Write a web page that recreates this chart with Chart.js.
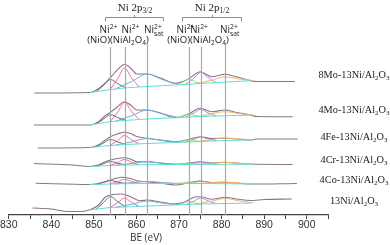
<!DOCTYPE html>
<html>
<head>
<meta charset="utf-8">
<script src="https://cdn.jsdelivr.net/npm/chart.js@4.4.1/dist/chart.umd.min.js"></script>
<style>
  html, body { margin: 0; padding: 0; background: #fff; }
</style>
</head>
<body>
<canvas id="c" width="390" height="245"></canvas>
<script>
// Ni 2p XPS spectra, stacked (arbitrary intensity units)
const sampleNames = ["8Mo-13Ni/Al2O3", "4Mo-13Ni/Al2O3", "4Fe-13Ni/Al2O3", "4Cr-13Ni/Al2O3", "4Co-13Ni/Al2O3", "13Ni/Al2O3"];
const markerBE = [853.9, 857.2, 862.5, 872.3, 875.2, 880.9];
const tickStep = 5;

// measured envelopes [BE, intensity]
const env8Mo = [[836,122],[849,122.5],[851,126],[852.7,132],[853.9,137.5],[855.5,145],[857.2,150.7],[858.6,147],[860.1,141],[862.5,141],[865.6,137],[869.1,131.7],[872.2,136],[875,143.3],[877.7,138.3],[880.8,140.7],[883.6,138],[886.7,134.5],[888.3,133.5],[897.2,133.5]];
const env4Mo = [[835.9,90],[849,90],[851,93],[852.7,99.3],[853.9,102.7],[855.5,108],[857.2,113.3],[858.6,110],[860.1,105],[862.5,105],[865.6,102],[869.1,97.3],[872.2,101],[875,106.7],[877.7,103.3],[880.8,105],[883.6,102.5],[886.7,100],[888.3,98.5],[896.7,98.3]];
const env4Fe = [[836.8,67],[849,67.5],[851,70],[852.7,75],[853.9,78.3],[855.5,81],[857.2,82.7],[858.6,81.5],[860.1,78.5],[862.5,76.7],[865.6,75],[869.1,73.3],[872.2,75.5],[875,78.3],[877.7,76.5],[880.8,76.7],[883.6,76],[886.7,75],[888.3,76],[897.9,76]];
const env4Cr = [[835.9,51.5],[845,50],[849,48.5],[851,50],[852.7,53.3],[853.9,55],[855.5,56.5],[857.2,57.3],[858.6,56],[860.1,53.3],[862.5,53.3],[865.6,52],[869.1,50.7],[872.2,52],[875,53.3],[877.7,52],[880.8,52.7],[883.6,52],[886.7,51],[896.7,50.5]];
const env4Co = [[836.3,31.7],[849,30.5],[851,31.5],[852.7,33.3],[853.9,35],[855.5,37],[856.6,37.7],[858.6,36.5],[860.1,34.3],[862.5,33.3],[865.6,32],[869.1,30],[872.2,32],[875,34],[877.7,32.5],[880.8,32.7],[883.6,32],[886.7,31],[897.7,31.5]];
const env13Ni = [[835.6,7],[840,6],[844,3.5],[847,3.5],[849.2,5.5],[851.1,10],[852.7,18],[853.9,20],[855.5,20.8],[856.6,21],[858.6,18.3],[860.9,14.3],[862.5,15],[865.6,13],[868.5,11],[871,12.5],[874.2,18.3],[875.5,18],[877.7,15.7],[880.8,17.7],[883.6,16],[886.7,14.5],[890,15.5],[896.5,16]];
const envelopes = [env8Mo, env4Mo, env4Fe, env4Cr, env4Co, env13Ni];

// backgrounds
const bg8Mo = [[849,122.3],[853.9,125.5],[857.2,127],[862.5,128.5],[869,130],[875,131.5],[881,133],[887,134.3]];
const bg4Mo = [[849,90],[853.9,93.3],[857.2,94.5],[862.5,96],[869,97.3],[875,98.5],[881,99.3],[887,99.8]];
const bg4Fe = [[849,67.5],[853.9,69.5],[857.2,70.5],[862.5,71.5],[869,72.5],[875,73.5],[881,74.5],[887,75.2]];
const bg4Cr = [[849,48.5],[853.9,49.5],[857.2,50],[862.5,50.3],[869,50.5],[875,50.6],[881,50.7],[887,50.7]];
const bg4Co = [[849,30.5],[853.9,31],[857.2,31.3],[862.5,31.5],[869,31.5],[875,31.5],[881,31.3],[887,31]];
const bg13Ni = [[849,5],[853.9,7.5],[857.2,8],[862.5,9],[869,10],[875,11],[881,11.5],[887,12]];
const backgrounds = [bg8Mo, bg4Mo, bg4Fe, bg4Cr, bg4Co, bg13Ni];

// fitted components, one entry per sample (same order as sampleNames)
const nioPeaks = [
  [[850.5,123.3],[852.2,129.4],[853.9,135.5],[855.6,131.3],[857.5,127.1]],
  [[850.5,91],[852.2,95.7],[853.9,100.3],[855.6,97.4],[857.5,94.6]],
  [[850.5,68.1],[852.2,71.8],[853.9,75.5],[855.6,73],[857.5,70.6]],
  [[850.5,48.8],[852.2,51.2],[853.9,53.5],[855.6,51.8],[857.5,50]],
  [[850.5,30.6],[852.2,32.6],[853.9,34.5],[855.6,32.9],[857.5,31.3]],
  [[850.5,5.8],[852.2,12.2],[853.9,18.5],[855.6,13.3],[857.5,8]]
];
const aluminatePeaks = [
  [[853.8,125.4],[855.6,136.3],[857.2,147],[858.8,137.5],[860.6,128]],
  [[853.8,93.2],[855.6,102.9],[857.2,112.5],[858.8,103.9],[860.6,95.5]],
  [[853.8,69.5],[855.6,74.5],[857.2,79.5],[858.8,75.3],[860.6,71.1]],
  [[853.8,49.5],[855.6,52.5],[857.2,55.5],[858.8,52.9],[860.6,50.2]],
  [[853.8,31],[855.6,33.4],[857.2,35.8],[858.8,33.6],[860.6,31.4]],
  [[853.8,7.5],[855.6,12.3],[857.2,17],[858.8,12.8],[860.6,8.6]]
];
const satPeaks = [
  [[855,126],[859,133.8],[862.5,141],[866,135.6],[870,130.3]],
  [[855,93.7],[859,99.5],[862.5,105],[866,101.2],[870,97.5]],
  [[855,69.8],[859,73.3],[862.5,76.5],[866,74.5],[870,72.7]],
  [[855,49.7],[859,51.6],[862.5,53.3],[866,51.9],[870,50.5]],
  [[855,31.1],[859,32.4],[862.5,33.5],[866,32.5],[870,31.5]],
  [[855,7.7],[859,10.8],[862.5,14],[866,12],[870,10.2]]
];
const nioHalfPeaks = [
  [[869.5,130.1],[871,133],[872.3,135.8],[873.6,133.7],[875,131.5]],
  [[869.5,97.4],[871,99.2],[872.3,101],[873.6,99.7],[875,98.5]],
  [[869.5,72.6],[871,73.8],[872.3,75],[873.6,74.3],[875,73.5]],
  [[869.5,50.5],[871,51.3],[872.3,52.1],[873.6,51.3],[875,50.6]],
  [[869.5,31.5],[871,32.2],[872.3,33],[873.6,32.2],[875,31.5]],
  [[869.5,10.1],[871,11.8],[872.3,13.6],[873.6,12.3],[875,11]]
];
const aluminateHalfPeaks = [
  [[871.5,130.6],[873.4,136.6],[875.1,142.5],[876.8,137.5],[878.7,132.4]],
  [[871.5,97.8],[873.4,101.7],[875.1,105.5],[876.8,102.2],[878.7,99]],
  [[871.5,72.9],[873.4,75.5],[875.1,78],[876.8,76],[878.7,74.1]],
  [[871.5,50.5],[873.4,51.8],[875.1,53.1],[876.8,51.9],[878.7,50.7]],
  [[871.5,31.5],[873.4,32.7],[875.1,34],[876.8,32.7],[878.7,31.4]],
  [[871.5,10.4],[873.4,13.7],[875.1,17],[876.8,14.2],[878.7,11.3]]
];
const satHalfPeaks = [
  [[874,131.3],[877.5,134.6],[880.8,138],[884,136.1],[887.5,134.4]],
  [[874,98.3],[877.5,100.8],[880.8,103.3],[884,101.5],[887.5,99.8]],
  [[874,73.3],[877.5,75.2],[880.8,77],[884,76.1],[887.5,75.2]],
  [[874,50.6],[877.5,51.7],[880.8,52.7],[884,51.7],[887.5,50.7]],
  [[874,31.5],[877.5,32.1],[880.8,32.8],[884,32],[887.5,31]],
  [[874,10.8],[877.5,13.7],[880.8,16.5],[884,14.3],[887.5,12]]
];

function pts(arr) {
  return arr.map(function (p) { return { x: p[0], y: p[1] }; });
}

function lineSet(arr, color, width) {
  return {
    data: pts(arr),
    borderColor: color,
    borderWidth: width,
    pointRadius: 0,
    fill: false,
    cubicInterpolationMode: "monotone",
  };
}

const datasets = [];
sampleNames.forEach(function (name, i) {
  datasets.push(lineSet(backgrounds[i], "#5fe0d2", 1));
  datasets.push(lineSet(satPeaks[i], "#74a9dc", 1));
  datasets.push(lineSet(nioPeaks[i], "#6e6a7c", 1));
  datasets.push(lineSet(aluminatePeaks[i], "#ff6690", 1));
  datasets.push(lineSet(nioHalfPeaks[i], "#9ee07a", 1));
  datasets.push(lineSet(satHalfPeaks[i], "#f2b865", 1));
  datasets.push(lineSet(aluminateHalfPeaks[i], "#b98ad9", 1));
  datasets.push(lineSet(envelopes[i], "#8c7589", 1.1));
});

const SANS = "'Open Sans', 'Liberation Sans', sans-serif";
const SERIF = "'Liberation Serif', 'DejaVu Serif', serif";

// draw a run of [text, kind] parts; kind: n / sup / sub
function chem(ctx, parts, x, y, size, family, align) {
  const small = size * 0.68;
  let w = 0;
  parts.forEach(function (p) {
    ctx.font = (p[1] === "n" ? size : small) + "px " + family;
    w += ctx.measureText(p[0]).width;
  });
  let cx = align === "center" ? x - w / 2 : x;
  parts.forEach(function (p) {
    ctx.font = (p[1] === "n" ? size : small) + "px " + family;
    let dy = 0;
    if (p[1] === "sup") dy = -size * 0.38;
    if (p[1] === "sub") dy = size * 0.22;
    ctx.fillText(p[0], cx, y + dy);
    cx += ctx.measureText(p[0]).width;
  });
}

function formulaParts(name) {
  // subscripts on the Al2O3 support
  const base = name.replace("Al2O3", "");
  return [[base + "Al", "n"], ["2", "sub"], ["O", "n"], ["3", "sub"]];
}

const annotations = {
  id: "annotations",
  afterDatasetsDraw: function (chart) {
    const ctx = chart.ctx;
    const area = chart.chartArea;
    const xs = chart.scales.x;
    const tops = [47, 47, 44, 47, 47, 44];
    ctx.save();
    ctx.strokeStyle = "#a3a9ae";
    ctx.lineWidth = 1.2;
    markerBE.forEach(function (be, i) {
      const px = Math.round(xs.getPixelForValue(be)) + 0.5;
      ctx.beginPath();
      ctx.moveTo(px, tops[i]);
      ctx.lineTo(px, area.bottom);
      ctx.stroke();
    });

    // brackets
    ctx.strokeStyle = "#8a8a8a";
    ctx.lineWidth = 1;
    [[105, 163, 134], [182, 241, 212]].forEach(function (b) {
      ctx.beginPath();
      ctx.moveTo(b[0] + 0.5, 21);
      ctx.lineTo(b[0] + 0.5, 17.5);
      ctx.lineTo(b[1] + 0.5, 17.5);
      ctx.lineTo(b[1] + 0.5, 21);
      ctx.moveTo(b[2] + 0.5, 17.5);
      ctx.lineTo(b[2] + 0.5, 15);
      ctx.stroke();
    });

    ctx.fillStyle = "#222";
    ctx.textBaseline = "alphabetic";
    chem(ctx, [["Ni 2p", "n"], ["3/2", "sub"]], 135, 11, 11, SERIF, "center");
    chem(ctx, [["Ni 2p", "n"], ["1/2", "sub"]], 212, 11, 11, SERIF, "center");

    const ni = [["Ni", "n"], ["2+", "sup"]];
    [108.5, 130.5, 185.5, 199].forEach(function (x) {
      chem(ctx, ni, x, 33, 10, SANS, "center");
    });
    [[144], [220]].forEach(function (x) {
      ctx.font = "10px " + SANS;
      const nw = ctx.measureText("Ni").width;
      ctx.fillText("Ni", x[0], 33);
      ctx.font = "6.8px " + SANS;
      ctx.fillText("2+", x[0] + nw, 29);
      ctx.fillText("sat", x[0] + nw, 36);
    });
    const species = [["(NiO)(NiAl", "n"], ["2", "sub"], ["O", "n"], ["4", "sub"], [")", "n"]];
    chem(ctx, species, 118, 43, 9.6, SANS, "center");
    chem(ctx, species, 198, 43, 9.6, SANS, "center");

    // sample names on the right
    const labelY = [78, 113, 140, 163, 183, 204];
    sampleNames.forEach(function (name, i) {
      chem(ctx, formulaParts(name), 354, labelY[i], 10.3, SERIF, "center");
    });

    ctx.font = "10px " + SANS;
    ctx.textAlign = "center";
    ctx.fillStyle = "#333";
    ctx.fillText("BE (eV)", 146, 241);
    ctx.restore();
  },
};

new Chart(document.getElementById("c"), {
  type: "line",
  data: { datasets: datasets },
  options: {
    responsive: false,
    animation: false,
    parsing: true,
    layout: { padding: { top: 0, right: 62, bottom: 13.4, left: 0 } },
    plugins: { legend: { display: false }, tooltip: { enabled: false } },
    scales: {
      x: {
        type: "linear",
        min: 830,
        max: 905,
        border: { color: "#444", width: 1.3 },
        grid: { drawOnChartArea: false, drawTicks: true, tickLength: 4, tickColor: "#444" },
        ticks: {
          stepSize: tickStep,
          autoSkip: false,
          maxRotation: 0,
          padding: 0,
          color: "#333",
          font: { family: "'Liberation Sans', Arial, sans-serif", size: 10.5 },
          callback: function (v) {
            return v % 10 === 0 && v <= 900 ? String(v) : "";
          },
        },
      },
      y: { display: false, min: 0, max: 215 },
    },
  },
  plugins: [annotations],
});
</script>
</body>
</html>
